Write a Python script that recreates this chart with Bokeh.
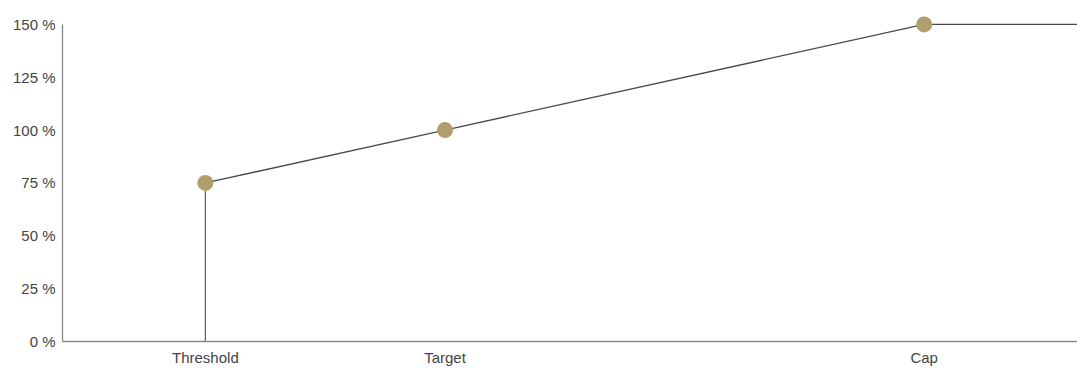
from bokeh.plotting import figure
from bokeh.models import Range1d, FixedTicker, PrintfTickFormatter
from bokeh.embed import file_html
from bokeh.resources import INLINE

# Data
levels = ["Threshold", "Target", "Cap"]
performance = [75, 100, 150]      # x positions (performance % of target)
payout = [75, 100, 150]           # payout %
x_end = 166                       # line continues flat past the cap
y_ticks = [0, 25, 50, 75, 100, 125, 150]

p = figure(width=1077, height=368, output_backend="svg", toolbar_location=None,
           x_range=Range1d(60.09, 166), y_range=Range1d(0, 158.93),
           min_border_left=62, min_border_right=0, min_border_top=5, min_border_bottom=0)

p.grid.visible = False
p.outline_line_color = None
p.background_fill_color = "white"
p.border_fill_color = "white"

# vertical drop at threshold
p.segment(x0=[performance[0]], y0=[0], x1=[performance[0]], y1=[payout[0]],
          line_color="#666666", line_width=1.3)
# payout curve
xs = performance + [x_end]
ys = payout + [payout[-1]]
p.line(xs, ys, line_color="#4a4a4a", line_width=1.3)
p.scatter(performance, payout, size=16, fill_color="#b09f6c", line_color=None)

for ax in (p.xaxis[0], p.yaxis[0]):
    ax.axis_line_color = "#888888"
    ax.axis_line_width = 1.3
    ax.major_tick_line_color = None
    ax.minor_tick_line_color = None
    ax.major_label_text_font = "Liberation Sans"
    ax.major_label_text_font_size = "15px"
    ax.major_label_text_color = "#444444"

p.yaxis.ticker = FixedTicker(ticks=y_ticks)
p.yaxis.formatter = PrintfTickFormatter(format="%d %%")
p.yaxis.bounds = (0, 150)
p.yaxis.major_label_standoff = 1

p.xaxis.ticker = FixedTicker(ticks=performance)
p.xaxis.major_label_overrides = {v: l for v, l in zip(performance, levels)}
p.xaxis.major_label_standoff = 1

open("out.html", "w").write(file_html(p, INLINE))
